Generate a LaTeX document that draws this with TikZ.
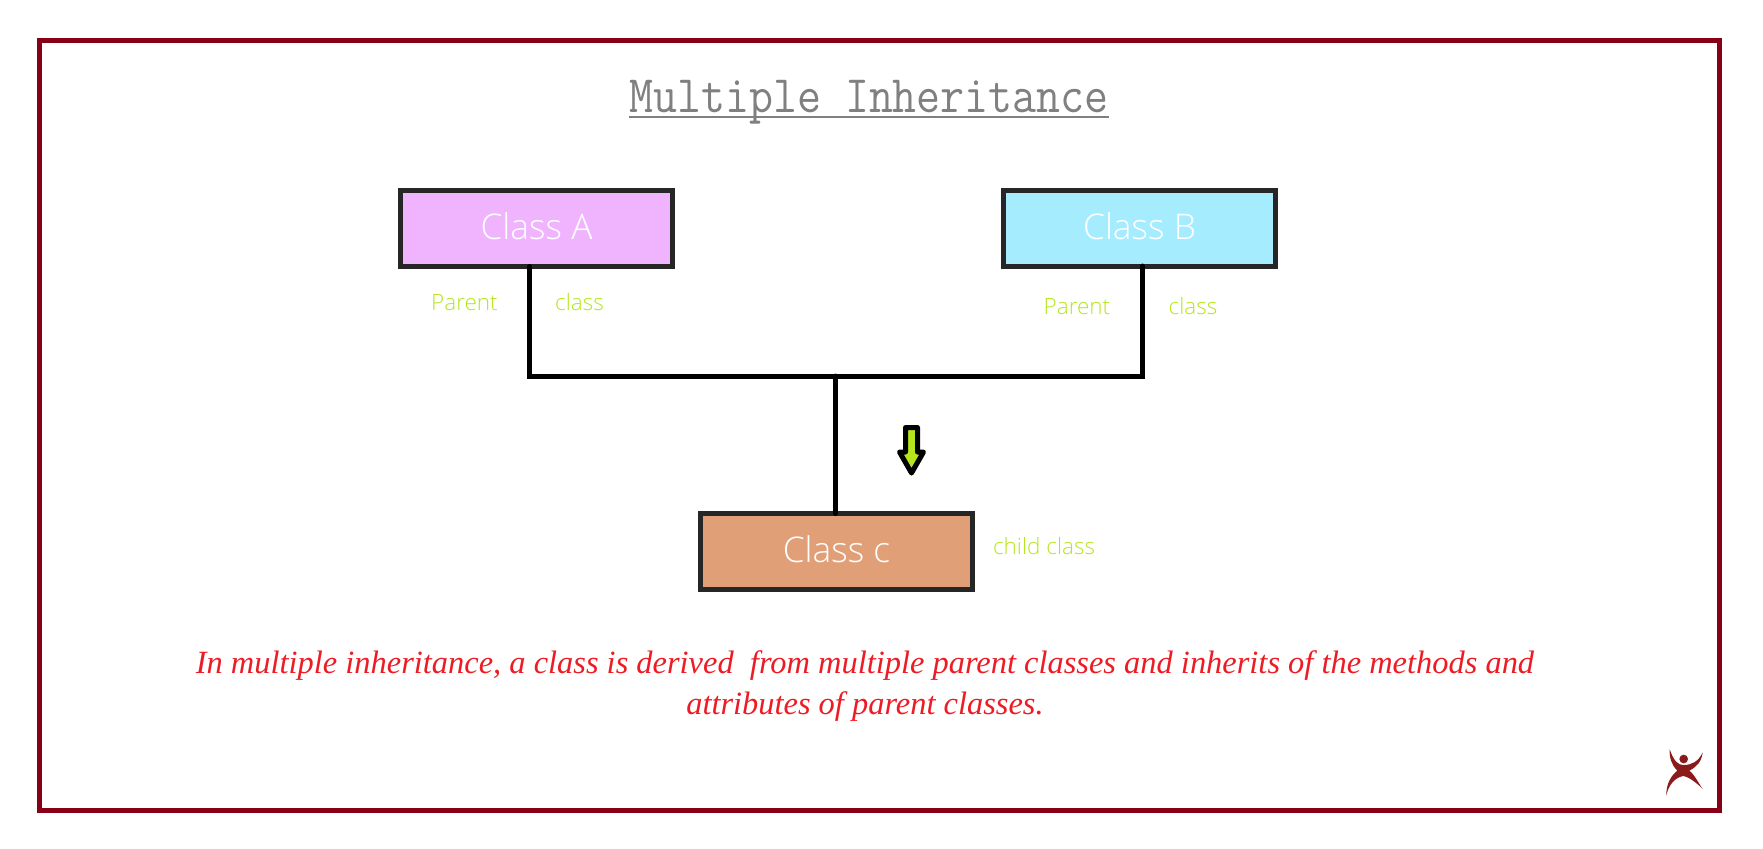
\documentclass[tikz,border=0pt]{standalone}
\usepackage{fontspec}
\usepackage{tikz}
\newfontfamily\uifont{Open Sans Light}
\setmainfont{Liberation Serif}
\definecolor{framered}{HTML}{880015}
\definecolor{logored}{HTML}{8B1A1A}
\definecolor{boxedge}{HTML}{262626}
\definecolor{lime}{HTML}{B5E61D}
\definecolor{capred}{HTML}{ED1C24}
\tikzstyle{classbox} = [draw=boxedge,line width=0.1cm,minimum width=5.44cm,minimum height=1.52cm,outer sep=0pt,inner sep=0pt,text=white,text height=0.6cm,text depth=0.15cm,font=\uifont\fontsize{20.1}{24}\selectfont]
\tikzstyle{tag} = [text=lime,inner sep=0pt,font=\uifont\fontsize{12.8}{15}\selectfont]
\tikzstyle{link} = [line width=0.1cm,line cap=round,line join=miter]

\begin{document}
\begin{tikzpicture}
        \useasboundingbox (0,0) rectangle (35.26,-16.96);
        \draw[framered, line width=0.1cm] (0.79,-0.81) rectangle (34.39,-16.21);

        \node[text=gray, inner sep=0pt, xscale=0.883, transform shape, font=\ttfamily\fontsize{30}{34}\selectfont] at (17.38,-2.05) (title) {Multiple Inheritance};
        \draw[gray, line width=0.05cm] ([yshift=-0.08cm]title.base west) -- ([yshift=-0.08cm]title.base east);

        \node[classbox, fill={rgb,255:red,240;green,180;blue,255}] at (10.73,-4.57) (A) {Class A};
        \node[classbox, fill={rgb,255:red,166;green,236;blue,255}] at (22.79,-4.56) (B) {Class B};
        \node[classbox, fill={rgb,255:red,225;green,159;blue,120}] at (16.73,-11.03) (C) {Class c};

        \coordinate (jl) at (10.59,-7.52);
        \coordinate (jm) at (16.71,-7.52);
        \coordinate (jr) at (22.85,-7.52);

        \draw[link] (A.south -| jl) -- (jl) -- (jr) -- (B.south -| jr);
        \draw[link] (jm) -- (C.north -| jm);

        \node[tag] at (9.29,-6.05) (pa) {Parent};
        \node[tag] at (11.59,-6.05) (ca) {class};
        \node[tag] at (21.54,-6.14) (pb) {Parent};
        \node[tag] at (23.86,-6.12) (cb) {class};
        \node[tag] at (20.88,-10.92) (cc) {child class};

        % down arrow
        \draw[fill=lime, line width=0.1cm, line join=round] (18.11,-8.55) -- (18.35,-8.55) -- (18.35,-9.04) -- (18.47,-9.04) -- (18.23,-9.46) -- (17.99,-9.04) -- (18.11,-9.04) -- cycle;

        \node[text=capred, align=center, inner sep=0pt, font=\itshape\fontsize{18.46}{23.3}\selectfont] at (17.3,-13.72) (note) {In multiple inheritance, a class is derived\ \ from multiple parent classes and inherits of the methods and\\attributes of parent classes.};

        % logo
        \begin{scope}[shift={(32,-14)}, x=0.00667cm, y=-0.00667cm]
            \fill[logored] (251,177) circle (13);
            \fill[logored] (209,148) .. controls (222,185) and (235,195) .. (250,195) .. controls (275,195) and (295,185) .. (308,157) .. controls (305,185) and (290,200) .. (268,212) .. controls (285,225) and (295,250) .. (308,266) .. controls (290,250) and (270,232) .. (250,228) .. controls (225,232) and (205,255) .. (199,287) .. controls (198,250) and (215,225) .. (232,212) .. controls (215,195) and (208,175) .. (209,148) -- cycle;
        \end{scope}
    \end{tikzpicture}
\end{document}
